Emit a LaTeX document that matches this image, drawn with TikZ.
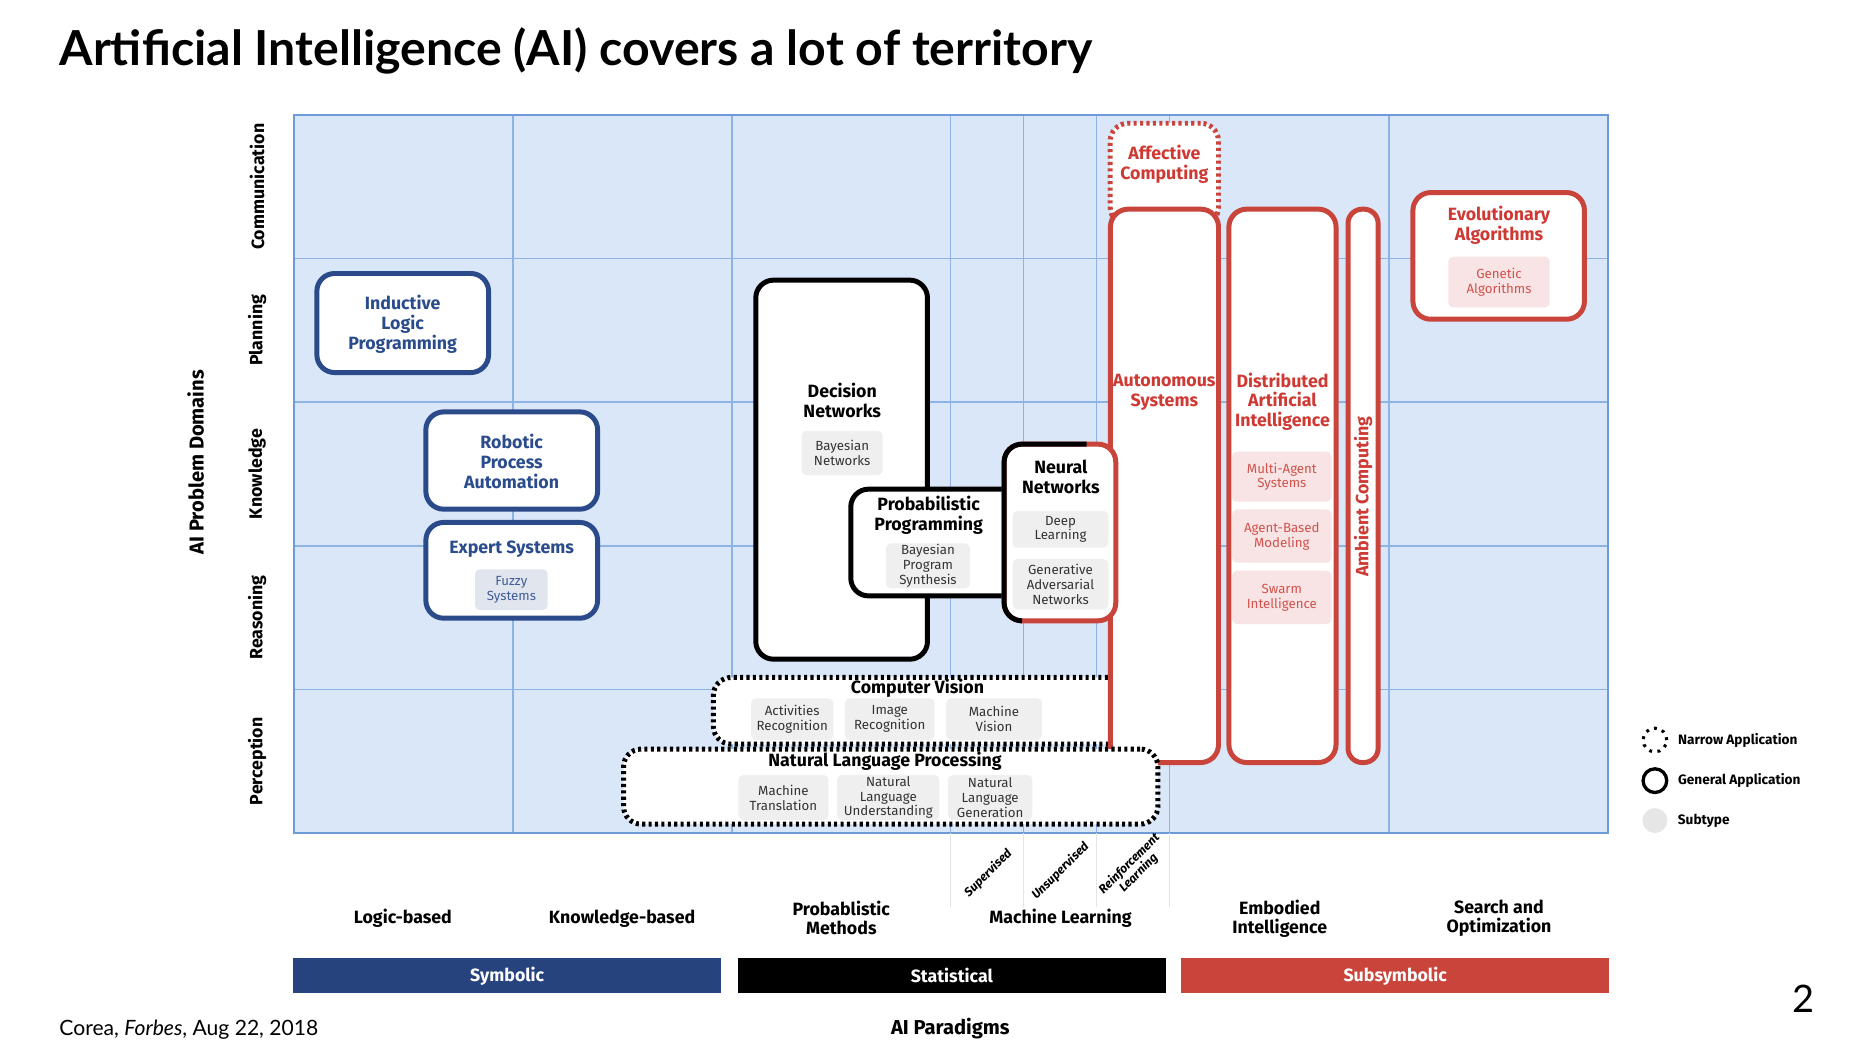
\documentclass[tikz,border=0pt]{standalone}
\usepackage{fontspec}
\setmainfont{Fira Sans}
\newfontfamily\headfont{Lato}
\usetikzlibrary{positioning}

\definecolor{gridfill}{HTML}{DAE7F9}
\definecolor{gridline}{HTML}{8DB2E6}
\definecolor{gridedge}{HTML}{6F9AD8}
\definecolor{symb}{HTML}{27437E}
\definecolor{symbline}{HTML}{2A4A8A}
\definecolor{symbtext}{HTML}{2B4C8C}
\definecolor{redc}{HTML}{C9453B}
\definecolor{redtext}{HTML}{CE3A33}
\definecolor{subgray}{HTML}{EFEFEF}
\definecolor{subblue}{HTML}{E1E5EE}
\definecolor{subpink}{HTML}{F8E4E5}
\definecolor{subtext}{HTML}{333333}
\definecolor{subbluetext}{HTML}{3E5C9A}
\definecolor{subredtext}{HTML}{D2524B}
\definecolor{mlline}{HTML}{E3E3E3}
\definecolor{legfill}{HTML}{E6E6E6}

\newcommand{\ttlfnt}{\bfseries\fontsize{15}{16.8}\selectfont}
\newcommand{\subfnt}{\fontsize{11.2}{12.6}\selectfont}

\tikzset{box/.style={draw, rectangle, rounded corners=15pt, line width=4.2pt, fill=white, inner sep=0pt, outer sep=0pt}}
\tikzset{narrowbox/.style={box, dash pattern=on 2.6pt off 2.8pt}}
\tikzset{subbox/.style={rectangle, rounded corners=4pt, fill=subgray, text=subtext, inner sep=0pt, align=center, font=\subfnt}}
\tikzset{ttl/.style={align=center, font=\ttlfnt, inner sep=0pt}}
\tikzset{lab/.style={align=center, font=\bfseries\fontsize{15}{16}\selectfont, inner sep=0pt}}
\tikzset{mllab/.style={align=center, rotate=45, font=\bfseries\itshape\fontsize{10.3}{11}\selectfont, inner sep=0pt}}
\tikzset{bar/.style={rectangle, minimum height=29.6pt, text=white, font=\bfseries\fontsize{15}{16}\selectfont}}
\tikzset{legtxt/.style={font=\bfseries\fontsize{11.5}{12}\selectfont, inner sep=0pt, anchor=west}}

\begin{document}
\begin{tikzpicture}[x=1pt,y=-1pt]
	\useasboundingbox (0,0) rectangle (1568,889.5);
	\fill[white] (0,0) rectangle (1568,889.5);
	
	% grid of domains and paradigms
	\fill[gridfill] (248,97) rectangle (1357,703);
	\foreach \gx in {432.8,617.5,802,863.7,925.3,987,1172}
		\draw[gridline, line width=1.4pt] (\gx,97) -- (\gx,703);
	\foreach \gy in {218.2,339.4,460.6,581.8}
		\draw[gridline, line width=1.4pt] (248,\gy) -- (1357,\gy);
	\draw[gridedge, line width=1.6pt] (248,97) rectangle (1357,703);
	\foreach \gx in {802,863.7,925.3,987}
		\draw[mlline, line width=1.2pt] (\gx,703) -- (\gx,765);
	
	\node[anchor=base west, inner sep=0pt, font=\headfont\bfseries\fontsize{40.7}{41}\selectfont] (title) at (50,55) {Artificial Intelligence (AI) covers a lot of territory};
	
	% symbolic
	\node[box, draw=symbline, minimum width=144.9pt, minimum height=83.6pt] (ilp) at (339.85,272.6) {};
	\node[ttl, text=symbtext] (ilpt) at (339.8,273.4) {Inductive\\Logic\\Programming};
	\node[box, draw=symbline, minimum width=144.9pt, minimum height=82.1pt] (rpa) at (431.85,388.65) {};
	\node[ttl, text=symbtext] (rpat) at (431.8,389.6) {Robotic\\Process\\Automation};
	\node[box, draw=symbline, minimum width=144.9pt, minimum height=80.8pt] (exp) at (431.85,481.3) {};
	\node[ttl, text=symbtext] (expt) at (431.8,463.6) {Expert Systems};
	\node[subbox, fill=subblue, text=subbluetext, minimum width=61.3pt, minimum height=34.3pt] (fuzzy) at (431.55,497.65) {Fuzzy\\Systems};
	
	% statistical
	\node[box, minimum width=144.9pt, minimum height=319.9pt] (dec) at (710.25,396.35) {};
	\node[ttl] (dect) at (710.8,338.3) {Decision\\Networks};
	\node[subbox, minimum width=68.4pt, minimum height=37.2pt] (bayn) at (710.7,382.3) {Bayesian\\Networks};
	\node[box, minimum width=142pt, minimum height=90.1pt] (pp) at (789,457.85) {};
	\node[ttl] (ppt) at (783.7,434.6) {Probabilistic\\Programming};
	\node[subbox, minimum width=70.9pt, minimum height=38pt] (bps) at (783.15,477.5) {Bayesian\\Program\\Synthesis};
	
	\node[narrowbox, minimum width=347.9pt, minimum height=56.3pt] (cv) at (776,599.85) {};
	\node[ttl] (cvt) at (774.3,581) {Computer Vision};
	\node[subbox, minimum width=69.5pt, minimum height=35.1pt] (actr) at (668.55,606.85) {Activities\\Recognition};
	\node[subbox, minimum width=75.8pt, minimum height=35.1pt] (imgr) at (750.9,606.85) {Image\\Recognition};
	\node[subbox, minimum width=80.7pt, minimum height=35.1pt] (mvis) at (838.85,606.85) {Machine\\Vision};
	
	% subsymbolic
	\node[narrowbox, draw=redc, minimum width=91.4pt, minimum height=86pt] (aff) at (982.6,147) {};
	\node[box, draw=redc, minimum width=91.2pt, minimum height=467pt] (auto) at (982.7,410) {};
	\node[box, draw=redc, minimum width=90.4pt, minimum height=467pt] (dai) at (1082.3,410) {};
	\node[box, draw=redc, rounded corners=12pt, minimum width=25.4pt, minimum height=467pt] (amb) at (1150.3,410) {};
	\node[ttl, text=redtext] (afft) at (982.6,138.5) {Affective\\Computing};
	\node[ttl, text=redtext] (autot) at (982.6,330.8) {Autonomous\\Systems};
	\node[ttl, text=redtext] (dait) at (1082.3,339) {Distributed\\Artificial\\Intelligence};
	\node[subbox, fill=subpink, text=subredtext, minimum width=83.9pt, minimum height=42.2pt] (mas) at (1081.75,402.3) {Multi-Agent\\Systems};
	\node[subbox, fill=subpink, text=subredtext, minimum width=83.9pt, minimum height=45pt] (abm) at (1081.75,452.4) {Agent-Based\\Modeling};
	\node[subbox, fill=subpink, text=subredtext, minimum width=83.9pt, minimum height=45pt] (swarm) at (1081.75,504.1) {Swarm\\Intelligence};
	\node[ttl, text=redtext, rotate=90] (ambt) at (1150.3,419) {Ambient Computing};
	
	\node[box, draw=redc, minimum width=94.2pt, minimum height=149.1pt] (nn) at (894.5,449.35) {};
	\draw[line width=4.2pt, rounded corners=15pt] ([xshift=13.6pt]nn.south west) -- (nn.south west) -- (nn.north west) -- ([xshift=69.6pt]nn.north west);
	\node[ttl] (nnt) at (895.3,402.6) {Neural\\Networks};
	\node[subbox, minimum width=80.7pt, minimum height=31pt] (deep) at (894.95,446.7) {Deep\\Learning};
	\node[subbox, minimum width=80.7pt, minimum height=42.4pt] (gan) at (894.95,493) {Generative\\Adversarial\\Networks};
	
	\node[narrowbox, minimum width=451pt, minimum height=63.4pt] (nlp) at (751.7,663.8) {};
	\node[ttl] (nlpt) at (746.9,642.6) {Natural Language Processing};
	\node[subbox, minimum width=75.9pt, minimum height=38pt] (mtr) at (661.15,673) {Machine\\Translation};
	\node[subbox, minimum width=86.2pt, minimum height=38pt] (nlu) at (749.6,673) {Natural\\Language\\Understanding};
	\node[subbox, minimum width=71.1pt, minimum height=38pt] (nlg) at (835.65,673) {Natural\\Language\\Generation};
	
	\node[box, draw=redc, minimum width=144.7pt, minimum height=106.9pt] (evo) at (1264.75,215.95) {};
	\node[ttl, text=redtext] (evot) at (1265,189.9) {Evolutionary\\Algorithms};
	\node[subbox, fill=subpink, text=subredtext, minimum width=85.5pt, minimum height=42.8pt] (gen) at (1265.05,238) {Genetic\\Algorithms};
	
	% axes
	\foreach \dom [count=\i] in {Communication,Planning,Knowledge,Reasoning,Perception}
		\node[lab, rotate=90] (dom\i) at (217,{97+121.2*\i-60.6}) {\dom};
	\node[lab, font=\bfseries\fontsize{17}{17}\selectfont, rotate=90] (domains) at (165,390) {AI Problem Domains};
	
	\node[mllab] (sup) at (834,737) {Supervised};
	\node[mllab] (unsup) at (895,735) {Unsupervised};
	\node[mllab] (reinf) at (957,733) {Reinforcement\\Learning};
	
	\node[lab] (logic) at (340,775) {Logic-based};
	\node[lab] (know) at (525,775) {Knowledge-based};
	\node[lab] (prob) at (710,775) {Probablistic\\Methods};
	\node[lab] (ml) at (895,775) {Machine Learning};
	\node[lab] (emb) at (1080,775) {Embodied\\Intelligence};
	\node[lab] (search) at (1265,775) {Search and\\Optimization};
	
	\node[bar, fill=symb, minimum width=361.7pt] (symbolic) at (428,823.5) {Symbolic};
	\node[bar, fill=black, minimum width=361.3pt] (statistical) at (803.25,823.5) {Statistical};
	\node[bar, fill=redc, minimum width=360.8pt] (subsymbolic) at (1177.4,823.5) {Subsymbolic};
	\node[lab, font=\bfseries\fontsize{17}{17}\selectfont] (paradigms) at (802,868) {AI Paradigms};
	
	% legend
	\node[circle, draw, line width=2.6pt, dash pattern=on 2.4pt off 4.6pt, minimum size=20pt, inner sep=0pt] (lgnarrow) at (1396.6,624.5) {};
	\node[circle, draw, line width=2.8pt, minimum size=20pt, inner sep=0pt] (lggeneral) at (1396.6,658.8) {};
	\node[circle, fill=legfill, minimum size=21pt, inner sep=0pt] (lgsub) at (1396.6,692.5) {};
	\node[legtxt, right=8pt of lgnarrow] (lgnarrowt) {Narrow Application};
	\node[legtxt, right=8pt of lggeneral] (lggeneralt) {General Application};
	\node[legtxt, right=8.5pt of lgsub] (lgsubt) {Subtype};
	
	\node[anchor=base west, inner sep=0pt, font=\headfont\fontsize{17.8}{18}\selectfont] (cite) at (50,874) {Corea, \textit{Forbes}, Aug 22, 2018};
	\node[inner sep=0pt, font=\headfont\fontsize{32}{32}\selectfont] (page) at (1522,843) {2};
\end{tikzpicture}
\end{document}
